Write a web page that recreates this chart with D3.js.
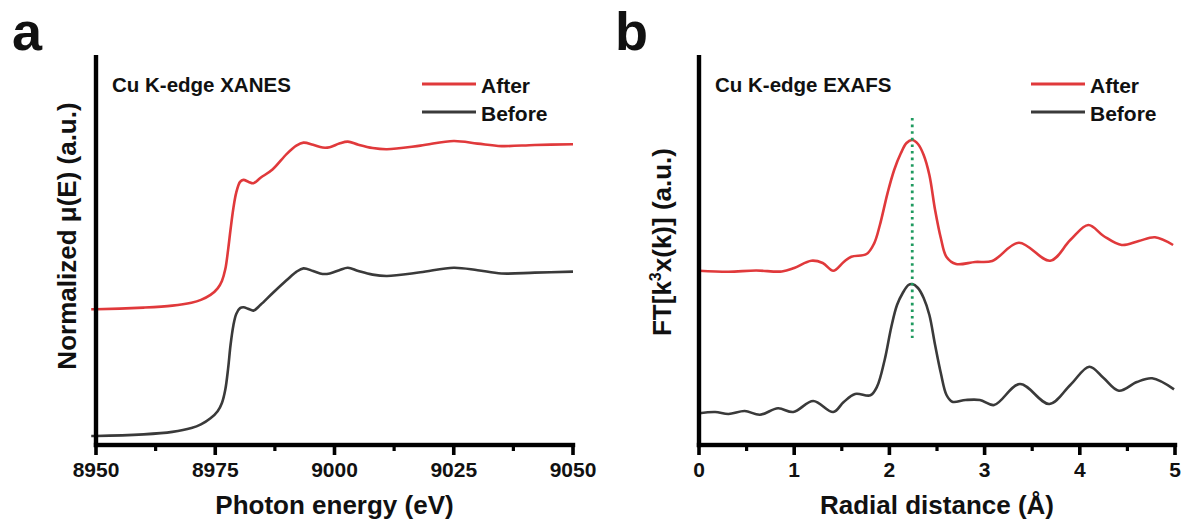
<!DOCTYPE html>
<html>
<head>
<meta charset="utf-8">
<script src="https://cdn.jsdelivr.net/npm/d3@7"></script>
<style>
  body { margin: 0; background: #fff; }
  svg text { font-family: Arial, "Liberation Sans", sans-serif; font-weight: bold; fill: #111; }
</style>
</head>
<body>
<svg id="chart" width="1182" height="525"></svg>
<script>
// ---- data ----
// panel a : Cu K-edge XANES
const xanesEnergy = [8949, 8950, 8960, 8966, 8970, 8972, 8974, 8975.5, 8976.4, 8977.1, 8977.7, 8978.2, 8978.8, 8979.4, 8980.2, 8980.9, 8982, 8983, 8984.5, 8987, 8990, 8992, 8993.5, 8995.5, 8997.5, 8999, 9001, 9002.8, 9005, 9008, 9011, 9018, 9025, 9030, 9035, 9042, 9050];
const xanesBefore = [0, 0, 0.01, 0.025, 0.048, 0.07, 0.107, 0.15, 0.2, 0.28, 0.41, 0.55, 0.67, 0.74, 0.775, 0.78, 0.77, 0.76, 0.795, 0.865, 0.945, 0.995, 1.016, 1.0, 0.982, 0.985, 1.005, 1.02, 1.0, 0.978, 0.97, 0.992, 1.02, 1.005, 0.985, 0.99, 0.996];
const xanesAfter = [0.768, 0.768, 0.778, 0.79, 0.808, 0.825, 0.855, 0.895, 0.94, 1.01, 1.13, 1.25, 1.38, 1.475, 1.54, 1.552, 1.54, 1.532, 1.565, 1.615, 1.71, 1.76, 1.778, 1.765, 1.748, 1.75, 1.772, 1.784, 1.765, 1.745, 1.738, 1.76, 1.788, 1.772, 1.757, 1.764, 1.768];
const xanesTicks = [8950, 8975, 9000, 9025, 9050];
const xanesMinor = [8962.5, 8987.5, 9012.5, 9037.5];

// panel b : Cu K-edge EXAFS
const exafsRBefore = [0, 0.17, 0.31, 0.48, 0.64, 0.83, 0.99, 1.2, 1.41, 1.52, 1.64, 1.8, 1.87, 1.95, 2.02, 2.08, 2.14, 2.2, 2.24, 2.3, 2.36, 2.42, 2.48, 2.54, 2.6, 2.66, 2.8, 2.95, 3.1, 3.37, 3.68, 3.9, 4.1, 4.25, 4.41, 4.6, 4.76, 4.99];
const exafsBefore = [0.317, 0.33, 0.31, 0.34, 0.303, 0.367, 0.33, 0.44, 0.33, 0.43, 0.51, 0.497, 0.583, 0.85, 1.18, 1.4, 1.52, 1.6, 1.61, 1.57, 1.47, 1.3, 1.0, 0.72, 0.5, 0.433, 0.45, 0.45, 0.4, 0.61, 0.41, 0.6, 0.783, 0.67, 0.543, 0.63, 0.667, 0.557];
const exafsRAfter = [0, 0.31, 0.6, 0.87, 1.0, 1.18, 1.3, 1.41, 1.52, 1.6, 1.76, 1.84, 1.9, 1.98, 2.05, 2.12, 2.18, 2.24, 2.3, 2.36, 2.42, 2.48, 2.54, 2.6, 2.7, 2.9, 3.08, 3.36, 3.69, 3.9, 4.09, 4.25, 4.44, 4.62, 4.79, 4.98];
const exafsAfter = [1.743, 1.733, 1.745, 1.735, 1.77, 1.843, 1.82, 1.743, 1.83, 1.883, 1.91, 2.017, 2.2, 2.517, 2.75, 2.917, 3.02, 3.05, 3.01, 2.9, 2.7, 2.35, 2.07, 1.88, 1.81, 1.83, 1.84, 2.023, 1.843, 2.05, 2.2, 2.09, 2.0, 2.04, 2.077, 2.0];
const exafsTicks = [0, 1, 2, 3, 4, 5];
const exafsMinor = [0.5, 1.5, 2.5, 3.5, 4.5];
const peakR = 2.24;
const peakSpan = [1.07, 3.27];

const seriesNames = ["After", "Before"];
const seriesColors = { After: "#e0393b", Before: "#3a3a3a" };

const svg = d3.select("#chart");

function panel(opt) {
  const g = svg.append("g");
  const x = d3.scaleLinear().domain(opt.xDomain).range([opt.left, opt.right]);
  const y = d3.scaleLinear().domain(opt.yDomain).range([445, 55]);
  const y0 = y.range()[0];

  const line = d3.line()
    .x(d => x(d[0]))
    .y(d => y(d[1]))
    .curve(d3.curveCatmullRom.alpha(0.5));

  // curves
  opt.series.forEach(s => {
    g.append("path")
      .datum(d3.zip(s.x, s.y))
      .attr("fill", "none")
      .attr("stroke", seriesColors[s.name])
      .style("stroke-width", "2.6px")
      .attr("d", line);
  });

  // axes drawn from the scales
  const axis = g.append("g").attr("fill", "#000");
  axis.append("rect")
    .attr("x", x.range()[0] - 2.2).attr("width", x.range()[1] - x.range()[0] + 4.4)
    .attr("y", y0 - 2.2).attr("height", 4.4);
  axis.append("rect")
    .attr("x", opt.left - 2.2).attr("width", 4.4)
    .attr("y", y.range()[1]).attr("height", y0 - y.range()[1] + 2.2);
  axis.selectAll(".major").data(opt.ticks).join("rect")
    .attr("x", d => x(d) - 1.8).attr("width", 3.6)
    .attr("y", y0).attr("height", 10);
  axis.selectAll(".minor").data(opt.minor).join("rect")
    .attr("x", d => x(d) - 1.6).attr("width", 3.2)
    .attr("y", y0).attr("height", 6);

  g.selectAll(".ticklabel").data(opt.ticks).join("text")
    .attr("x", d => x(d)).attr("y", 477)
    .attr("text-anchor", "middle").attr("font-size", 21)
    .text(d3.format("d"));

  // titles
  g.append("text").attr("x", (opt.left + opt.right) / 2).attr("y", 514)
    .attr("text-anchor", "middle").attr("font-size", 26).text(opt.xTitle);
  const yt = g.append("text")
    .attr("transform", `translate(${opt.yTitleX},${opt.yTitleY}) rotate(-90)`)
    .attr("text-anchor", "middle").attr("font-size", 26);
  opt.yTitle(yt);

  g.append("text").attr("x", opt.left - 84).attr("y", 50).attr("font-size", 54).text(opt.letter);
  g.append("text").attr("x", opt.left + 16).attr("y", 92).attr("font-size", 20.5).text(opt.label);

  // legend
  const leg = g.append("g").attr("transform", `translate(${opt.legendX},84)`);
  seriesNames.forEach((n, i) => {
    leg.append("line").attr("x1", 0).attr("x2", 54).attr("y1", i * 28).attr("y2", i * 28)
      .attr("stroke", seriesColors[n]).style("stroke-width", "2.8px");
    leg.append("text").attr("x", 59).attr("y", i * 28 + 8.5).attr("font-size", 21).text(n);
  });

  return { g, x, y };
}

panel({
  letter: "a", label: "Cu K-edge XANES",
  left: 96, right: 573, xDomain: [8950, 9050], yDomain: [-0.0545, 2.309],
  ticks: xanesTicks, minor: xanesMinor,
  series: [
    { name: "After", x: xanesEnergy, y: xanesAfter },
    { name: "Before", x: xanesEnergy, y: xanesBefore }
  ],
  xTitle: "Photon energy (eV)",
  yTitleX: 76, yTitleY: 236,
  yTitle: t => t.text("Normalized μ(E) (a.u.)"),
  legendX: 422
});

const pb = panel({
  letter: "b", label: "Cu K-edge EXAFS",
  left: 699, right: 1175, xDomain: [0, 5], yDomain: [0, 3.9],
  ticks: exafsTicks, minor: exafsMinor,
  series: [
    { name: "After", x: exafsRAfter, y: exafsAfter },
    { name: "Before", x: exafsRBefore, y: exafsBefore }
  ],
  xTitle: "Radial distance (Å)",
  yTitleX: 671, yTitleY: 242,
  yTitle: t => {
    t.append("tspan").text("FT[k");
    t.append("tspan").attr("font-size", 16).attr("dy", -10).text("3");
    t.append("tspan").attr("dy", 10).text("x(k)] (a.u.)");
  },
  legendX: 1031
});

// green dotted marker at the first-shell peak
pb.g.append("line")
  .attr("x1", pb.x(peakR)).attr("x2", pb.x(peakR))
  .attr("y1", pb.y(peakSpan[1])).attr("y2", pb.y(peakSpan[0]))
  .attr("stroke", "#1f9a5f").style("stroke-width", "2.8px")
  .attr("stroke-dasharray", "2.6 4");
</script>
</body>
</html>
